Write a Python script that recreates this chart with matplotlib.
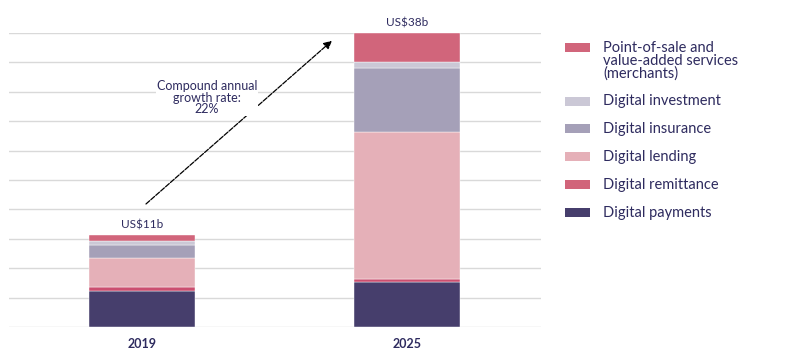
import matplotlib
matplotlib.use("Agg")
import matplotlib.pyplot as plt
from matplotlib.patches import Rectangle
import numpy as np

plt.rcParams['font.family'] = ['Lato', 'DejaVu Sans']

years = ["2019", "2025"]
series_names = ["Digital payments", "Digital remittance", "Digital lending",
                "Digital insurance", "Digital investment",
                "Point-of-sale and\nvalue-added services\n(merchants)"]
payments = [4.61, 5.82]
remittance = [0.52, 0.39]
lending = [3.75, 18.96]
insurance = [1.72, 8.35]
investment = [0.52, 0.78]
pos = [0.74, 3.67]
totals_labels = ["US$11b", "US$38b"]
cagr_label = "Compound annual\ngrowth rate:\n22%"

values = [payments, remittance, lending, insurance, investment, pos]
colors = ["#463e6c", "#cb4f70", "#e5b0b8", "#a5a0b8", "#cbc8d6", "#d1657b"]
legend_colors = ["#463e6c", "#d1647a", "#e5b0b8", "#a5a0b8", "#cbc8d6", "#d1657b"]
navy = "#2e2b5f"

fig = plt.figure(figsize=(7.87, 3.59), dpi=100)
W, H = 787, 359
ax = fig.add_axes([9 / W, (H - 327) / H, (541 - 9) / W, (327 - 33) / H])

x = np.arange(len(years))
bottom = np.zeros(len(years))
for vals, c in zip(values, colors):
    ax.bar(x, vals, bottom=bottom, width=0.4, color=c, edgecolor="white",
           linewidth=0.3, zorder=3)
    bottom += np.array(vals)

ax.set_ylim(0, 38)
ax.set_xlim(-0.502, 1.506)
ax.set_yticks(np.arange(0, 38.01, 3.8))
ax.yaxis.grid(True, color="#d9d9d9", linewidth=1.0, zorder=0)
ax.tick_params(axis="y", length=0, labelleft=False)
ax.tick_params(axis="x", length=0, pad=8)
ax.set_xticks(x)
ax.set_xticklabels(years, fontsize=9, fontweight="bold", color=navy)
for s in ax.spines.values():
    s.set_visible(False)

for xi, tot, lab in zip(x, bottom, totals_labels):
    ax.text(xi, tot + 0.6, lab, ha="center", va="bottom", fontsize=8.5, color=navy)

ax.annotate("", xy=(0.717, 37.0), xytext=(0.015, 15.9),
            arrowprops=dict(arrowstyle="-|>", color="black", lw=0.9,
                            linestyle=(0, (4, 1.2)), mutation_scale=12,
                            shrinkA=0, shrinkB=0), zorder=5)
ax.text(0.245, 29.6, cagr_label, ha="center", va="center", fontsize=9,
        color=navy, linespacing=0.95, zorder=6,
        bbox=dict(facecolor="white", edgecolor="none", pad=0.3))

# legend (manual layout)
order = [5, 4, 3, 2, 1, 0]
ys = [47, 101, 128, 156, 184, 212]
for idx, yc in zip(order, ys):
    fig.add_artist(Rectangle((565 / W, (H - yc - 4.5) / H), 25 / W, 9 / H,
                             transform=fig.transFigure, color=legend_colors[idx],
                             linewidth=0))
    fig.text(603 / W, (H - yc + 6.5) / H, series_names[idx], ha="left", va="top",
             fontsize=10.5, color=navy, linespacing=0.92)

fig.savefig("out.png", dpi=100)
